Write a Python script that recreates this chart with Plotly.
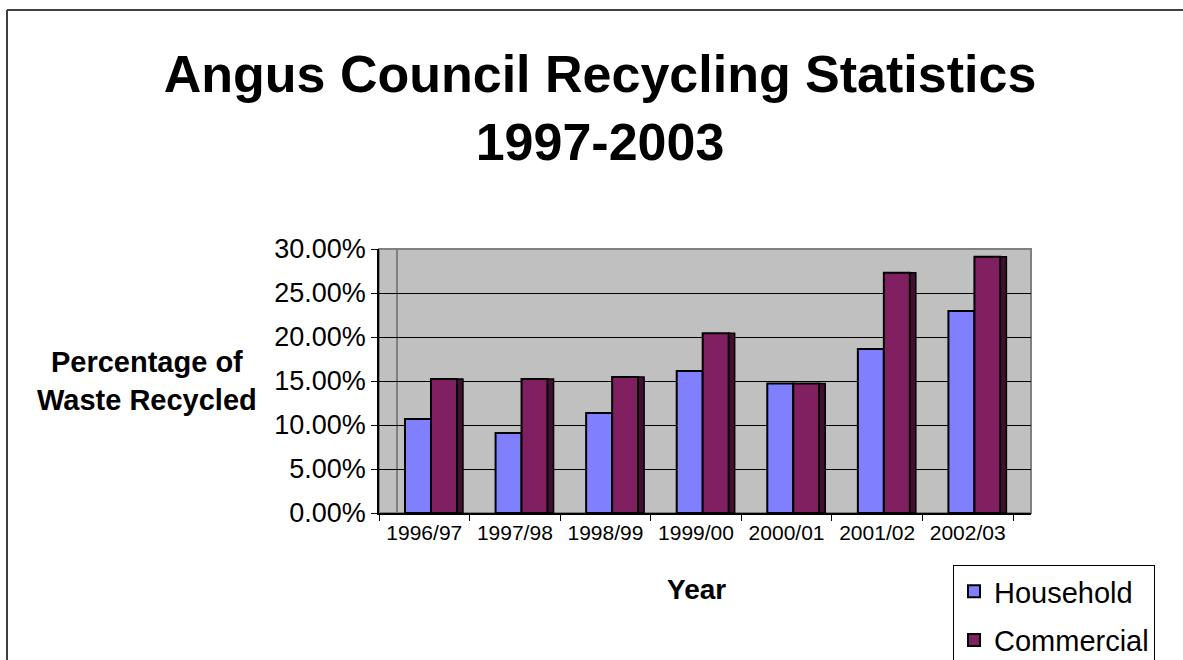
import plotly.graph_objects as go

# ---- data ----
years = ["1996/97", "1997/98", "1998/99", "1999/00", "2000/01", "2001/02", "2002/03"]
household = [0.1068, 0.0909, 0.1136, 0.1614, 0.1473, 0.1864, 0.2295]
commercial = [0.1523, 0.1523, 0.1545, 0.2042, 0.1473, 0.2731, 0.2913]
y_ticks = [0, 0.05, 0.10, 0.15, 0.20, 0.25, 0.30]

W, H = 1183, 660
L, R, T, B = 379, 1031, 249, 513  # plot area in pixels


def xp(px):
    return (px - L) / (R - L)


def yp(py):
    return (B - py) / (B - T)


FONT = "Liberation Sans, Arial, sans-serif"

fig = go.Figure()

fig.add_trace(go.Bar(
    x=years, y=household, name="Household",
    marker=dict(color="#8080FF", line=dict(color="#000000", width=2)),
    offset=-0.213, width=0.287, legendgroup="h",
))
fig.add_trace(go.Bar(
    x=years, y=commercial, name="Commercial",
    marker=dict(color="#802060", line=dict(color="#000000", width=2)),
    offset=0.074, width=0.287, legendgroup="c",
))
# 3-D side face of the commercial columns
fig.add_trace(go.Bar(
    x=years, y=commercial, name="Commercial side",
    marker=dict(color="#401030", line=dict(color="#000000", width=1.5)),
    offset=0.361, width=0.066, showlegend=False, hoverinfo="skip",
))

cat_px = (1013 - L) / 7.0
x_max = -0.5 + (R - L) / cat_px

fig.update_layout(
    width=W, height=H,
    margin=dict(l=L, r=W - R, t=T, b=H - B, autoexpand=False),
    paper_bgcolor="white",
    plot_bgcolor="#C0C0C0",
    barmode="overlay",
    font=dict(family=FONT, color="black"),
    title=dict(
        text="<b>Angus Council Recycling Statistics<br>1997-2003</b>",
        font=dict(size=52, family=FONT, color="black"),
        x=600 / W, xanchor="center", xref="container",
        y=1 - 92 / H, yanchor="top", yref="container",
    ),
    xaxis=dict(
        type="category", range=[-0.5, x_max],
        tickson="boundaries", ticks="outside", ticklen=6, tickcolor="black",
        tickfont=dict(size=21, family=FONT),
        showline=True, linecolor="black", linewidth=1.5,
        showgrid=False, zeroline=False,
    ),
    yaxis=dict(
        range=[0, 0.30], tickvals=y_ticks, tickformat=".2%",
        ticks="outside", ticklen=6, tickcolor="black",
        tickfont=dict(size=27, family=FONT),
        showline=True, linecolor="black", linewidth=1.5,
        showgrid=True, gridcolor="black", gridwidth=1,
        zeroline=False,
    ),
    legend=dict(
        x=xp(953), y=yp(565), xanchor="left", yanchor="top",
        font=dict(size=29, family=FONT),
        bordercolor="black", borderwidth=1, bgcolor="white",
        tracegroupgap=8, entrywidth=175, entrywidthmode="pixels",
    ),
    showlegend=True,
)

# axis titles
fig.add_annotation(
    text="<b>Percentage of<br>Waste Recycled</b>",
    xref="paper", yref="paper", x=xp(147), y=yp(381),
    xanchor="center", yanchor="middle", showarrow=False,
    font=dict(size=29, family=FONT), align="center",
)
fig.add_annotation(
    text="<b>Year</b>",
    xref="paper", yref="paper", x=xp(696), y=yp(589),
    xanchor="center", yanchor="middle", showarrow=False,
    font=dict(size=28, family=FONT),
)

# plot area frame (top / right in grey) and wall edge
fig.add_shape(type="rect", xref="paper", yref="paper", x0=0, x1=1, y0=0, y1=1,
              line=dict(color="#808080", width=2), layer="below")
fig.add_shape(type="line", xref="paper", yref="paper", x0=xp(397), x1=xp(397), y0=0, y1=1,
              line=dict(color="#808080", width=2), layer="below")
# outer chart frame
fig.add_shape(type="line", xref="paper", yref="paper", x0=xp(7), x1=xp(W + 5), y0=yp(10), y1=yp(10),
              line=dict(color="#404040", width=2))
fig.add_shape(type="line", xref="paper", yref="paper", x0=xp(7), x1=xp(7), y0=yp(10), y1=yp(H + 5),
              line=dict(color="#404040", width=2))

fig.write_html("out.html")
